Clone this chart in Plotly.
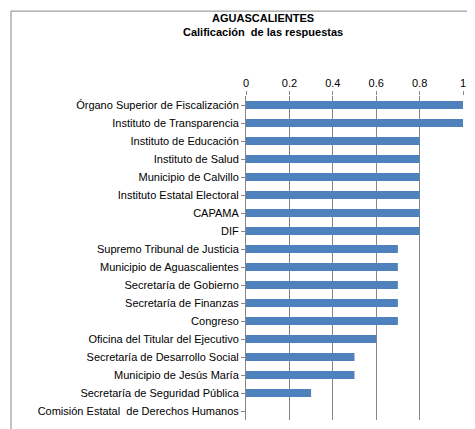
import plotly.graph_objects as go

categories = [
    "Órgano Superior de Fiscalización", "Instituto de Transparencia", "Instituto de Educación",
    "Instituto de Salud", "Municipio de Calvillo", "Instituto Estatal Electoral", "CAPAMA", "DIF",
    "Supremo Tribunal de Justicia", "Municipio de Aguascalientes", "Secretaría de Gobierno",
    "Secretaría de Finanzas", "Congreso", "Oficina del Titular del Ejecutivo",
    "Secretaría de Desarrollo Social", "Municipio de Jesús María",
    "Secretaría de Seguridad Pública", "Comisión Estatal  de Derechos Humanos",
]
values = [1, 1, 0.8, 0.8, 0.8, 0.8, 0.8, 0.8, 0.7, 0.7, 0.7, 0.7, 0.7, 0.6, 0.5, 0.5, 0.3, 0]
tick_vals = [0, 0.2, 0.4, 0.6, 0.8, 1]
tick_text = ["0", "0.2", "0.4", "0.6", "0.8", "1"]

fig = go.Figure(go.Bar(
    x=values, y=categories, orientation="h",
    marker=dict(color="#4F81BD", line=dict(width=0)), width=0.45,
))

fig.update_layout(
    width=475, height=429,
    margin=dict(l=238, r=20, t=88, b=17, autoexpand=False),
    paper_bgcolor="white", plot_bgcolor="white",
    font=dict(family="Liberation Sans", size=11, color="black"),
    showlegend=False,
    title=dict(text="<b>AGUASCALIENTES<br>Calificación  de las respuestas</b>",
               x=0.537, xanchor="center", y=0.968, yanchor="top",
               font=dict(size=11)),
    xaxis=dict(side="top", range=[0, 1], tickvals=tick_vals, ticktext=tick_text,
               showgrid=True, gridcolor="#868686", gridwidth=1, automargin=False,
               zeroline=False, showline=False, ticks="outside", ticklen=4,
               tickcolor="#868686"),
    yaxis=dict(autorange="reversed", showline=True, linecolor="#868686", automargin=False,
               ticks="outside", ticklen=4, tickcolor="#868686", showgrid=False),
    shapes=[dict(type="rect", xref="paper", yref="paper",
                 x0=-1.083, x1=1.078, y0=-0.043, y1=1.262,
                 line=dict(color="#868686", width=1))],
)

fig.write_html("out.html")
